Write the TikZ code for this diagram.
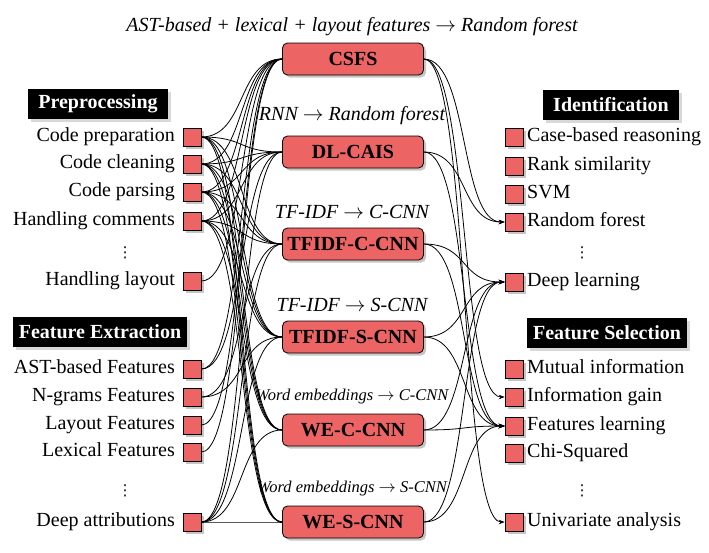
\documentclass[tikz,border=0pt]{standalone}
\usepackage{fontspec}
\setmainfont{Liberation Serif}
\newfontfamily\dejavu{DejaVu Sans}
\usetikzlibrary{shadows,arrows.meta}
\definecolor{boxred}{RGB}{236,100,100}
\newcommand\mainsz{\fontsize{20}{24}\selectfont}
\begin{document}
\begin{tikzpicture}[x=1pt,y=-1pt,
  shd/.style={drop shadow={shadow xshift=2.5pt,shadow yshift=-2.5pt,fill=black!45}},
  sq/.style={draw=black, line width=0.6pt, fill=boxred, minimum size=18pt, inner sep=0pt, shd},
  method/.style={draw=black, line width=0.8pt, fill=boxred, rounded corners=5pt,
    minimum width=141pt, minimum height=32pt, inner sep=0pt, font=\mainsz\bfseries, shd},
  header/.style={fill=black, text=white, minimum height=30pt, inner sep=0pt,
    font=\fontsize{20}{24}\selectfont\bfseries,
    drop shadow={shadow xshift=3pt,shadow yshift=-3pt,fill=black!30}},
  ltext/.style={anchor=east, inner sep=0pt, text height=13pt, text depth=4pt, font=\mainsz},
  rtext/.style={anchor=west, inner sep=0pt, text height=13pt, text depth=4pt, font=\mainsz},
  capt/.style={inner sep=0pt, font=\mainsz\itshape},
  capts/.style={inner sep=0pt, font=\fontsize{16.5}{20}\selectfont\itshape},
  dotsn/.style={inner sep=0pt, font=\dejavu\fontsize{15}{18}\selectfont},
  lk/.style={draw=black, line width=0.8pt},
  ar/.style={draw=black, line width=0.8pt, -{Stealth[length=6pt,width=4.5pt]}},
]
\useasboundingbox (0,0) rectangle (709,552);

% captions
\node[capt] (c1) at (352,27) {AST-based + lexical + layout features $\rightarrow$ Random forest};
\node[capt] (c2) at (352,116) {RNN $\rightarrow$ Random forest};
\node[capt] (c3) at (352,212) {TF-IDF $\rightarrow$ C-CNN};
\node[capt] (c4) at (352,305) {TF-IDF $\rightarrow$ S-CNN};
\node[capts] (c5) at (352,397) {Word embeddings $\rightarrow$ C-CNN};
\node[capts] (c6) at (352,489) {Word embeddings $\rightarrow$ S-CNN};

% methods
\node[method] (m1) at (353,59) {CSFS};
\node[method] (m2) at (353,152) {DL-CAIS};
\node[method] (m3) at (353,244) {TFIDF-C-CNN};
\node[method] (m4) at (353,337) {TFIDF-S-CNN};
\node[method] (m5) at (353,430) {WE-C-CNN};
\node[method] (m6) at (353,522) {WE-S-CNN};

% headers
\node[header, minimum width=140pt] (h1) at (98,104) {Preprocessing};
\node[header, minimum width=174pt] (h2) at (100,332) {Feature Extraction};
\node[header, minimum width=136pt] (h3) at (611,105) {Identification};
\node[header, minimum width=160pt] (h4) at (607,333) {Feature Selection};

% left squares
\node[sq] (p1) at (192,137) {};
\node[sq] (p2) at (192,164) {};
\node[sq] (p3) at (192,192) {};
\node[sq] (p4) at (192,221) {};
\node[sq] (p5) at (192,281) {};
\node[sq] (f1) at (192,369) {};
\node[sq] (f2) at (192,397) {};
\node[sq] (f3) at (192,425) {};
\node[sq] (f4) at (192,452) {};
\node[sq] (f5) at (192,522) {};

\node[ltext] (tp1) at (175,137) {Code preparation};
\node[ltext] (tp2) at (175,164) {Code cleaning};
\node[ltext] (tp3) at (175,192) {Code parsing};
\node[ltext] (tp4) at (175,221) {Handling comments};
\node[dotsn] (dp) at (125,253) {⋮};
\node[ltext] (tp5) at (175,281) {Handling layout};
\node[ltext] (tf1) at (175,369) {AST-based Features};
\node[ltext] (tf2) at (175,397) {N-grams Features};
\node[ltext] (tf3) at (175,425) {Layout Features};
\node[ltext] (tf4) at (175,452) {Lexical Features};
\node[dotsn] (df) at (125,491) {⋮};
\node[ltext] (tf5) at (175,522) {Deep attributions};

% right squares
\node[sq] (i1) at (514,137) {};
\node[sq] (i2) at (514,166) {};
\node[sq] (i3) at (514,194) {};
\node[sq] (i4) at (514,222) {};
\node[sq] (i5) at (514,282) {};
\node[sq] (s1) at (514,369) {};
\node[sq] (s2) at (514,397) {};
\node[sq] (s3) at (514,426) {};
\node[sq] (s4) at (514,453) {};
\node[sq] (s5) at (514,522) {};

\node[rtext] (ti1) at (527,137) {Case-based reasoning};
\node[rtext] (ti2) at (527,166) {Rank similarity};
\node[rtext] (ti3) at (527,194) {SVM};
\node[rtext] (ti4) at (527,222) {Random forest};
\node[dotsn] (di) at (582,253) {⋮};
\node[rtext] (ti5) at (527,282) {Deep learning};
\node[rtext] (ts1) at (527,369) {Mutual information};
\node[rtext] (ts2) at (527,397) {Information gain};
\node[rtext] (ts3) at (527,426) {Features learning};
\node[rtext] (ts4) at (527,453) {Chi-Squared};
\node[dotsn] (ds) at (582,491) {⋮};
\node[rtext] (ts5) at (527,522) {Univariate analysis};

% left connectors
\foreach \p in {p1,p2,p3,p4}
  \foreach \m in {m1,m2,m3,m4,m5,m6}
    \draw[lk] (\p.east) .. controls +(45,0) and +(-45,0) .. (\m.west);
\foreach \p/\m in {p5/m1, f1/m1, f1/m2, f2/m3, f2/m4, f3/m1, f4/m1,
                   f5/m2, f5/m3, f5/m4, f5/m5, f5/m6}
  \draw[lk] (\p.east) .. controls +(45,0) and +(-45,0) .. (\m.west);

% right connectors
\foreach \m/\t in {m1/i4, m1/s2, m1/s5, m2/i4, m2/s3,
                   m3/i5, m3/s3, m4/i5, m4/s3, m5/i5, m5/s3, m6/i5, m6/s3}
  \draw[ar] (\m.east) .. controls +(45,0) and +(-45,0) .. (\t.west);
\end{tikzpicture}
\end{document}
